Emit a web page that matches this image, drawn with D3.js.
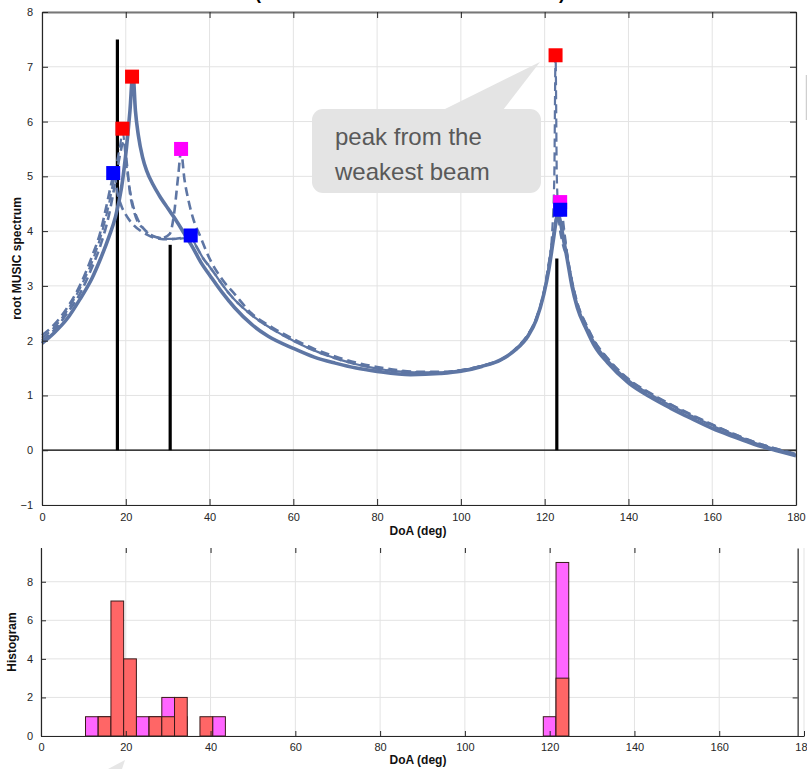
<!DOCTYPE html>
<html>
<head>
<meta charset="utf-8">
<script src="https://cdn.jsdelivr.net/npm/d3@7"></script>
<style>
body { margin: 0; background: #fff; }
text { font-family: "Liberation Sans", Arial, sans-serif; }
</style>
</head>
<body>
<div id="chartDiv"></div>
<script>
// ---- spectrum curves (DoA in deg, root MUSIC spectrum) ----
const solidDoa = [0,3,6,9,12,14,16,17.5,19,20.2,21,21.7,22.3,23,24,25,26.5,28,30,32,34,36,38,40,43,46,50,54,60,65,70,75,80,88,95,100,105,109.5,113,116,118,119.8,121,122,122.8,123.3,123.8,124.5,125.4,126.5,127.8,130,132,135,140,145,150,155,160,165,170,175,180];
const solidVal = [1.95,2.15,2.4,2.75,3.15,3.5,3.9,4.25,4.8,5.55,6.2,6.9,6.2,5.75,5.35,5.1,4.85,4.65,4.42,4.2,3.95,3.7,3.42,3.2,2.88,2.6,2.3,2.08,1.86,1.7,1.59,1.5,1.44,1.38,1.4,1.44,1.53,1.65,1.83,2.08,2.38,2.85,3.3,3.8,4.2,4.3,4.15,3.85,3.48,3.0,2.6,2.2,1.89,1.6,1.23,0.98,0.77,0.58,0.4,0.25,0.11,0.0,-0.1];

const dashRedDoa = [0,3,6,9,12,14,16,17.5,18.5,19.3,20,21,22,23,24.2,26,28,30,32,34,35.5,37,38.5,40,45,50,55,60,65,70,75,80,85,90,95,100,105,110,113,116,118,120,121,121.8,122.3,122.6,122.9,123.4,124.2,125.4,127.8,130,132,135,140,145,150,155,160,165,170,175,180];
const dashRedVal = [2.05,2.25,2.55,2.95,3.45,3.9,4.5,5.1,5.5,5.8,5.3,4.75,4.4,4.2,4.05,3.93,3.88,3.86,3.86,3.87,3.88,3.7,3.5,3.35,2.83,2.47,2.21,2.0,1.82,1.68,1.57,1.49,1.44,1.42,1.42,1.46,1.54,1.67,1.84,2.1,2.4,2.95,3.4,4.0,5.0,7.2,5.0,4.2,3.8,3.5,2.65,2.25,1.95,1.65,1.28,1.03,0.82,0.63,0.45,0.29,0.14,0.02,-0.08];

const dashBlueDoa = [0,3,6,9,12,14,15.5,16.5,17.2,18,19,20,22,24,26,28,30,32,34,35.5,37,38.5,40,45,50,55,60,65,70,75,80,85,90,95,100,105,110,113,116,118,120,121,122,123,123.8,124.5,125.4,127.8,130,132,135,140,145,150,155,160,165,170,175,180];
const dashBlueVal = [2.1,2.3,2.6,3.0,3.55,4.0,4.5,4.85,5.06,4.7,4.45,4.3,4.1,3.98,3.9,3.86,3.85,3.86,3.88,3.88,3.7,3.5,3.35,2.83,2.47,2.21,2.0,1.82,1.68,1.57,1.49,1.44,1.42,1.42,1.46,1.54,1.67,1.84,2.1,2.4,2.95,3.4,3.85,4.25,4.38,4.0,3.55,2.68,2.28,1.98,1.68,1.3,1.05,0.84,0.65,0.47,0.3,0.15,0.03,-0.07];

const dashMagDoa = [0,3,6,9,12,14,16,17.5,18.5,19.6,20.3,21,22,23,24.2,26,28.5,30.5,31.5,32.5,33.2,34,35,36,37.8,40,43,46,50,55,60,65,70,75,80,85,90,95,100,105,110,113,116,118,120,121,122,123,123.8,124.5,125.4,127.8,130,132,135,140,145,150,155,160,165,170,175,180];
const dashMagVal = [2.0,2.2,2.5,2.85,3.35,3.75,4.3,4.9,5.35,5.65,5.2,4.7,4.35,4.15,4.05,3.93,3.87,3.95,4.3,5.0,5.45,4.95,4.55,4.25,3.9,3.5,3.12,2.85,2.5,2.24,2.03,1.85,1.71,1.6,1.52,1.46,1.43,1.43,1.46,1.54,1.67,1.85,2.11,2.41,2.95,3.4,3.9,4.35,4.53,4.1,3.55,2.68,2.27,1.97,1.67,1.29,1.04,0.83,0.64,0.46,0.3,0.15,0.03,-0.08];

// ---- true directions (stems) ----
const stemDoa = [18, 30.6, 122.9];
const stemVal = [7.5, 3.75, 3.5];

// ---- detected peaks ----
const redPeakDoa = [21.5, 19.2, 122.6];
const redPeakVal = [6.82, 5.87, 7.21];
const magentaPeakDoa = [33.2, 123.7];
const magentaPeakVal = [5.5, 4.53];
const bluePeakDoa = [17.0, 35.5, 123.7];
const bluePeakVal = [5.06, 3.92, 4.39];

// ---- histogram (3 deg bins from 1.5 to 178.5) ----
const binWidth = 3;
const binStart = 1.5;
const magentaCounts = [0,0,0,1,1,1,1,1,1,2,1,0,0,1,0,0,0,0,0,0,0,0,0,0,0,0,0,0,0,0,0,0,0,0,0,0,0,0,0,1,9,0,0,0,0,0,0,0,0,0,0,0,0,0,0,0,0,0,0];
const redCounts     = [0,0,0,0,1,7,4,0,1,1,2,0,1,0,0,0,0,0,0,0,0,0,0,0,0,0,0,0,0,0,0,0,0,0,0,0,0,0,0,0,3,0,0,0,0,0,0,0,0,0,0,0,0,0,0,0,0,0,0];

const xTicks = [0,20,40,60,80,100,120,140,160,180];
const specTicks = [-1,0,1,2,3,4,5,6,7,8];
const histTicks = [0,2,4,6,8];

const W = 807, H = 769;
const lineColor = '#5e76a4';
const axisColor = '#262626';
const gridColor = '#e3e3e3';

const svg = d3.select('#chartDiv')
	.append('svg')
	.attr('width', W)
	.attr('height', H);

// title fragment (cut off at the top)
svg.append('text').attr('x', 258).attr('y', -1).attr('font-size', 18).attr('font-weight', 'bold').attr('text-anchor', 'middle').text('(');
svg.append('text').attr('x', 562).attr('y', -1).attr('font-size', 18).attr('font-weight', 'bold').attr('text-anchor', 'middle').text(')');

// ================= top panel =================
const x = d3.scaleLinear().domain([0, 180]).range([42, 796]);
const y = d3.scaleLinear().domain([-1, 8]).range([505, 12]);

const topPanel = svg.append('g');

// grid
topPanel.append('g').selectAll('line').data(xTicks).join('line')
	.attr('x1', d => x(d)).attr('x2', d => x(d))
	.attr('y1', y(8)).attr('y2', y(-1))
	.attr('stroke', gridColor).attr('stroke-width', 1);
topPanel.append('g').selectAll('line').data(specTicks).join('line')
	.attr('x1', x(0)).attr('x2', x(180))
	.attr('y1', d => y(d)).attr('y2', d => y(d))
	.attr('stroke', gridColor).attr('stroke-width', 1);

// zero line
topPanel.append('line')
	.attr('x1', x(0)).attr('x2', x(180))
	.attr('y1', y(0)).attr('y2', y(0))
	.attr('stroke', '#000').attr('stroke-width', 1.2);

// stems
topPanel.append('g').selectAll('line').data(stemDoa).join('line')
	.attr('x1', d => x(d)).attr('x2', d => x(d))
	.attr('y1', y(0)).attr('y2', (d, i) => y(stemVal[i]))
	.attr('stroke', '#000').attr('stroke-width', 3.2);

const line = d3.line()
	.x(d => x(d[0]))
	.y(d => y(d[1]))
	.curve(d3.curveMonotoneX);

const curves = [
	{doa: dashBlueDoa, val: dashBlueVal, dash: '9,5', w: 2.6},
	{doa: dashMagDoa, val: dashMagVal, dash: '9,5', w: 2.6},
	{doa: dashRedDoa, val: dashRedVal, dash: '9,5', w: 2.2},
	{doa: solidDoa, val: solidVal, dash: null, w: 3.6}
];
curves.forEach(c => {
	topPanel.append('path')
		.datum(d3.zip(c.doa, c.val))
		.attr('d', line)
		.attr('fill', 'none')
		.attr('stroke', lineColor)
		.attr('stroke-width', c.w)
		.attr('stroke-linejoin', 'round')
		.attr('stroke-dasharray', c.dash);
});

// peak markers
function markers(doa, val, col){
	topPanel.append('g').selectAll('rect').data(doa).join('rect')
		.attr('x', d => x(d) - 7)
		.attr('y', (d, i) => y(val[i]) - 7)
		.attr('width', 14).attr('height', 14)
		.attr('fill', col);
}
markers(redPeakDoa, redPeakVal, '#ff0000');
markers(magentaPeakDoa, magentaPeakVal, '#ff00ff');
markers(bluePeakDoa, bluePeakVal, '#0000ff');

// axes (ticks inward, box on)
const xAxisB = topPanel.append('g').attr('transform', `translate(0,${y(-1)})`)
	.call(d3.axisBottom(x).tickValues(xTicks).tickSizeInner(-6).tickSizeOuter(0).tickPadding(8));
const xAxisT = topPanel.append('g').attr('transform', `translate(0,${y(8)})`)
	.call(d3.axisTop(x).tickValues(xTicks).tickSizeInner(-6).tickSizeOuter(0).tickFormat(''));
const yAxisL = topPanel.append('g').attr('transform', `translate(${x(0)},0)`)
	.call(d3.axisLeft(y).tickValues(specTicks).tickSizeInner(-6).tickSizeOuter(0).tickPadding(9));
const yAxisR = topPanel.append('g').attr('transform', `translate(${x(180)},0)`)
	.call(d3.axisRight(y).tickValues(specTicks).tickSizeInner(-6).tickSizeOuter(0).tickFormat(''));
[xAxisB, xAxisT, yAxisL, yAxisR].forEach(a => {
	a.select('.domain').attr('stroke', axisColor).attr('stroke-width', 1.2);
	a.selectAll('.tick line').attr('stroke', axisColor);
	a.selectAll('text').attr('font-size', 11).attr('fill', axisColor).attr('font-family', '"Liberation Sans", Arial, sans-serif');
});
xAxisT.select('.domain').attr('stroke', '#777').attr('stroke-width', 2);

topPanel.append('text')
	.attr('x', 418).attr('y', 535)
	.attr('text-anchor', 'middle').attr('font-size', 12).attr('font-weight', 'bold')
	.attr('fill', '#111').text('DoA (deg)');
topPanel.append('text')
	.attr('transform', `translate(21,${(y(8) + y(-1)) / 2}) rotate(-90)`)
	.attr('text-anchor', 'middle').attr('font-size', 12).attr('font-weight', 'bold')
	.attr('fill', '#111').text('root MUSIC spectrum');

// callout
const callout = topPanel.append('g');
callout.append('path')
	.attr('d', `M443,110 L540,62 L503,110 Z`)
	.attr('fill', '#e4e4e4');
callout.append('rect')
	.attr('x', 312).attr('y', 109).attr('width', 229).attr('height', 84)
	.attr('rx', 11).attr('fill', '#e4e4e4');
callout.append('text')
	.attr('x', 335).attr('y', 145).attr('font-size', 24).attr('fill', '#595959')
	.text('peak from the');
callout.append('text')
	.attr('x', 335).attr('y', 180).attr('font-size', 24).attr('fill', '#595959')
	.text('weakest beam');

// clipped pieces of other annotations
svg.append('line').attr('x1', 806.5).attr('x2', 806.5).attr('y1', 75).attr('y2', 120)
	.attr('stroke', '#cfcfcf').attr('stroke-width', 1.5);

// ================= bottom panel =================
const hx = d3.scaleLinear().domain([0, 180]).range([41, 804]);
const hy = d3.scaleLinear().domain([0, 9.75]).range([736, 548]);
const bot = svg.append('g');

bot.append('g').selectAll('line').data(xTicks).join('line')
	.attr('x1', d => hx(d)).attr('x2', d => hx(d))
	.attr('y1', hy(9.75)).attr('y2', hy(0))
	.attr('stroke', gridColor);
bot.append('g').selectAll('line').data(histTicks).join('line')
	.attr('x1', hx(0)).attr('x2', hx(178.5))
	.attr('y1', d => hy(d)).attr('y2', d => hy(d))
	.attr('stroke', gridColor);

function bars(counts, col){
	bot.append('g').selectAll('rect').data(counts).join('rect')
		.attr('x', (d, i) => hx(binStart + i * binWidth))
		.attr('width', hx(binWidth) - hx(0))
		.attr('y', d => hy(d))
		.attr('height', d => hy(0) - hy(d))
		.attr('fill', col)
		.attr('stroke', '#3a1a1a').attr('stroke-width', 1);
}
bars(magentaCounts, '#ff66ff');
bars(redCounts, '#ff6666');

const hxAxis = bot.append('g').attr('transform', `translate(0,${hy(0)})`)
	.call(d3.axisBottom(hx).tickValues(xTicks).tickSizeInner(-5).tickSizeOuter(0).tickPadding(7));
const hxAxisT = bot.append('g').attr('transform', `translate(0,${hy(9.75)})`)
	.call(d3.axisTop(hx).tickValues(xTicks.filter(d => d < 180)).tickSizeInner(-5).tickSizeOuter(0).tickFormat(''));
const hyAxis = bot.append('g').attr('transform', `translate(${hx(0)},0)`)
	.call(d3.axisLeft(hy).tickValues(histTicks).tickSizeInner(-5).tickSizeOuter(0).tickPadding(8));
const hyAxisR = bot.append('g').attr('transform', `translate(${hx(178.5)},0)`)
	.call(d3.axisRight(hy).tickValues(histTicks).tickSizeInner(-5).tickSizeOuter(0).tickFormat(''));
hxAxisT.select('.domain').remove();
[hxAxis, hxAxisT, hyAxis, hyAxisR].forEach(a => {
	a.select('.domain').attr('stroke', axisColor).attr('stroke-width', 1.2);
	a.selectAll('.tick line').attr('stroke', axisColor);
	a.selectAll('text').attr('font-size', 11).attr('fill', axisColor).attr('font-family', '"Liberation Sans", Arial, sans-serif');
});

bot.append('text')
	.attr('x', 418).attr('y', 764)
	.attr('text-anchor', 'middle').attr('font-size', 12).attr('font-weight', 'bold')
	.attr('fill', '#111').text('DoA (deg)');
bot.append('text')
	.attr('transform', `translate(16,${(hy(0) + hy(9.75)) / 2}) rotate(-90)`)
	.attr('text-anchor', 'middle').attr('font-size', 12).attr('font-weight', 'bold')
	.attr('fill', '#111').text('Histogram');

// tip of another callout, cut at the bottom edge
svg.append('path').attr('d', 'M108,769 L125,760 L122,769 Z').attr('fill', '#e6e6e6');
</script>
</body>
</html>
